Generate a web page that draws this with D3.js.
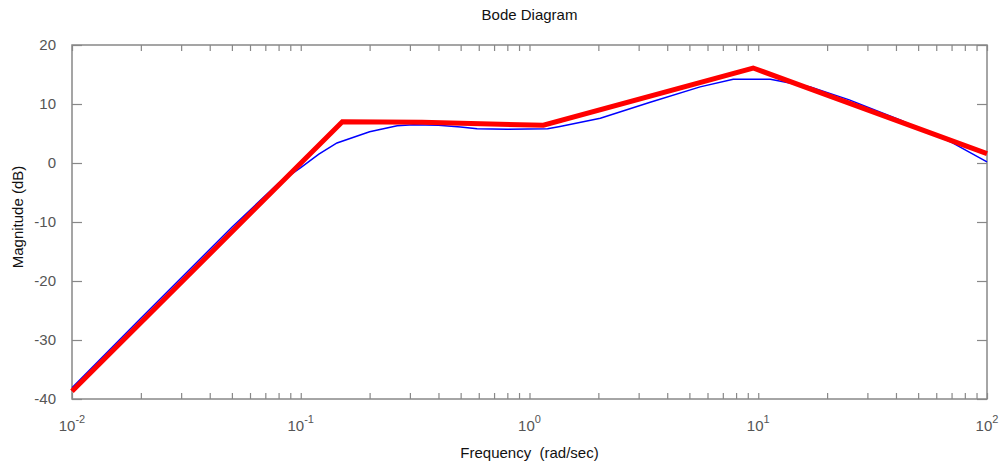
<!DOCTYPE html>
<html>
<head>
<meta charset="utf-8">
<script src="https://cdn.jsdelivr.net/npm/d3@7"></script>
<style>
  body { margin: 0; background: #fff; }
  text { font-family: "Liberation Sans", Arial, sans-serif; }
  .tick text { fill: #555; font-size: 15px; }
</style>
</head>
<body>
<svg id="d" width="1003" height="468"></svg>
<script>
(function (d3) {
  'use strict';

  const titleText = 'Bode Diagram';
  const xAxisLabelText = 'Frequency \u00a0(rad/sec)';
  const yAxisLabelText = 'Magnitude (dB)';

  // actual magnitude response (blue)
  const magFreq = [0.01, 0.02, 0.05, 0.08, 0.1, 0.12, 0.144, 0.2, 0.264, 0.31, 0.4, 0.5, 0.59, 0.8, 1.2, 1.36, 2.04, 3.37, 5.57, 7.77, 11.3, 16.9, 25, 41.7, 70, 100];
  const magDb   = [-38.1, -26.3, -10.9, -3.4, -0.8, 1.5, 3.4, 5.3, 6.3, 6.5, 6.4, 6.1, 5.8, 5.7, 5.8, 6.2, 7.6, 10.3, 12.9, 14.2, 14.2, 12.9, 10.7, 7.3, 3.5, 0.2];

  // asymptotic approximation (red)
  const asymFreq = [0.01, 0.152, 0.339, 1.15, 9.5, 100];
  const asymDb   = [-38.7, 7.0, 6.9, 6.4, 16.1, 1.6];

  const xDomain = [0.01, 100];
  const yTicks = [-40, -30, -20, -10, 0, 10, 20];
  const decadeExps = ['-2', '-1', '0', '1', '2'];

  const svg = d3.select('#d');
  const width = +svg.attr('width');
  const height = +svg.attr('height');

  const margin = { top: 45, right: 16, bottom: 69, left: 72 };
  const innerWidth = width - margin.left - margin.right;
  const innerHeight = height - margin.top - margin.bottom;

  const xScale = d3.scaleLog().domain(xDomain).range([0, innerWidth]);
  const yScale = d3.scaleLinear().domain([-40, 20]).range([innerHeight, 0]);

  const g = svg.append('g')
    .attr('transform', `translate(${margin.left},${margin.top})`);

  const xTicks = xScale.ticks();
  const isDecade = v => Math.abs(Math.log10(v) - Math.round(Math.log10(v))) < 1e-9;

  const styleAxis = sel => {
    sel.select('.domain').remove();
    sel.selectAll('.tick line').attr('stroke', '#888').attr('stroke-width', 1.2);
  };

  // bottom & top x ticks (pointing inward)
  g.append('g')
    .attr('transform', `translate(0,${innerHeight})`)
    .call(d3.axisBottom(xScale).tickValues(xTicks).tickSize(-6).tickFormat(''))
    .call(styleAxis);
  g.append('g')
    .call(d3.axisTop(xScale).tickValues(xTicks).tickSize(-6).tickFormat(''))
    .call(styleAxis);

  // decade labels 10^n
  const decades = xTicks.filter(isDecade);
  const lab = g.append('g').selectAll('text').data(decades)
    .enter().append('text')
      .attr('x', d => xScale(d))
      .attr('y', innerHeight + 32)
      .attr('text-anchor', 'middle')
      .attr('fill', '#555')
      .attr('font-size', 15);
  lab.append('tspan').text('10');
  lab.append('tspan')
    .attr('dy', -8)
    .attr('font-size', 11)
    .text((d, i) => decadeExps[i]);

  // left & right y ticks
  g.append('g')
    .call(d3.axisLeft(yScale).tickValues(yTicks).tickSize(-10).tickPadding(16)
      .tickFormat(d => String(d)))
    .call(styleAxis);
  g.append('g')
    .attr('transform', `translate(${innerWidth},0)`)
    .call(d3.axisRight(yScale).tickValues(yTicks).tickSize(-10).tickFormat(''))
    .call(styleAxis);

  // box
  g.append('rect')
    .attr('width', innerWidth)
    .attr('height', innerHeight)
    .attr('fill', 'none')
    .attr('stroke', '#888')
    .attr('stroke-width', 1.5);

  const line = d3.line()
    .x(d => xScale(d[0]))
    .y(d => yScale(d[1]));

  g.append('path')
    .datum(d3.zip(magFreq, magDb))
    .attr('d', line)
    .attr('fill', 'none')
    .attr('stroke', '#0000ff')
    .attr('stroke-width', 1.5);

  g.append('path')
    .datum(d3.zip(asymFreq, asymDb))
    .attr('d', line)
    .attr('fill', 'none')
    .attr('stroke', '#ff0000')
    .attr('stroke-width', 5)
    .attr('stroke-linejoin', 'miter');

  svg.append('text')
    .attr('x', margin.left + innerWidth / 2)
    .attr('y', 20)
    .attr('text-anchor', 'middle')
    .attr('font-size', 15)
    .attr('fill', '#111')
    .text(titleText);

  svg.append('text')
    .attr('x', margin.left + innerWidth / 2)
    .attr('y', 458)
    .attr('text-anchor', 'middle')
    .attr('font-size', 15)
    .attr('fill', '#111')
    .text(xAxisLabelText);

  svg.append('text')
    .attr('transform', `translate(23,${margin.top + innerHeight / 2 - 5}) rotate(-90)`)
    .attr('text-anchor', 'middle')
    .attr('font-size', 15)
    .attr('fill', '#111')
    .text(yAxisLabelText);

}(d3));
</script>
</body>
</html>
